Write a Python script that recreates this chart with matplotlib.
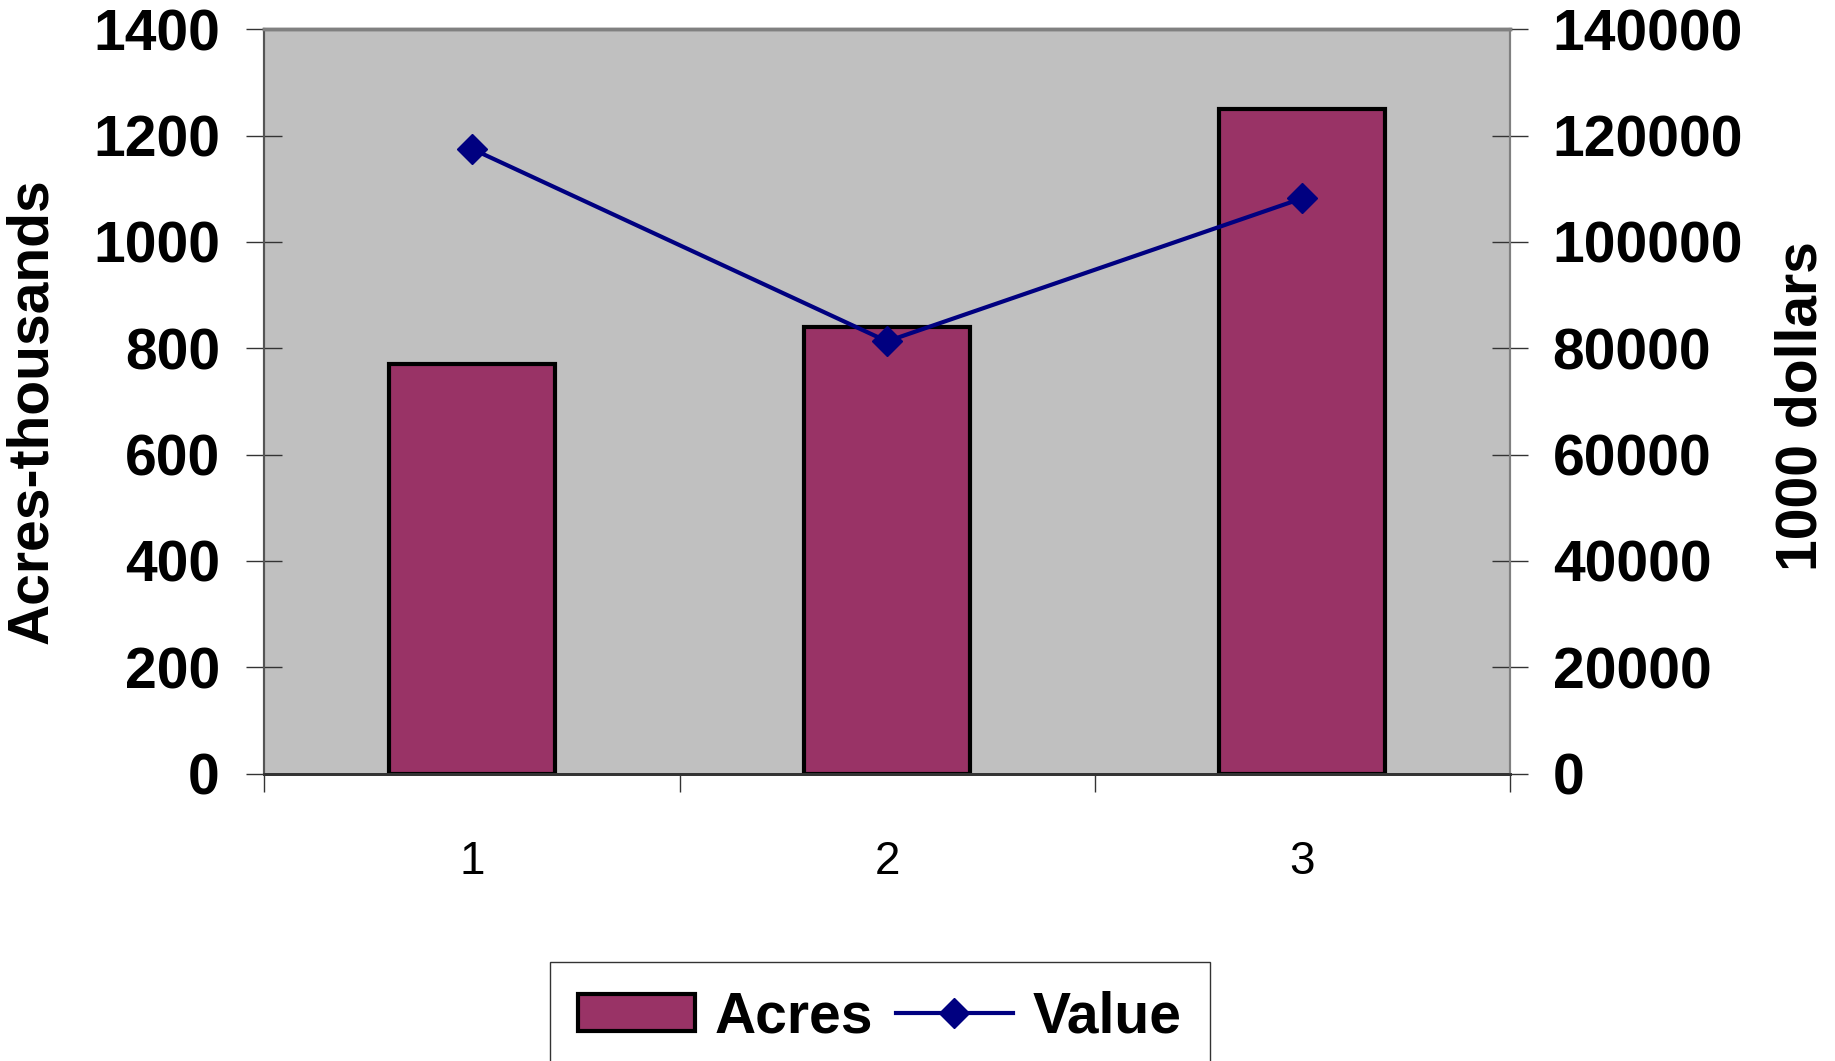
import matplotlib
matplotlib.use("Agg")
import matplotlib.pyplot as plt
import numpy as np

categories = ["1", "2", "3"]
acres = [770, 840, 1250]            # acres, thousands
value = [117500, 81300, 108200]     # 1000 dollars

plt.rcParams['font.family'] = ['Liberation Sans', 'DejaVu Sans']

fig = plt.figure(figsize=(18.35, 10.61), dpi=100)
ax = fig.add_axes([0.1441, 0.2709, 0.8227 - 0.1441, 0.9724 - 0.2709])
ax.set_facecolor('#C0C0C0')

x = np.arange(1, len(categories) + 1)
bars = ax.bar(x, acres, width=0.4, color='#993366', edgecolor='black',
              linewidth=3, label='Acres', zorder=2)

ax.set_xlim(0.5, 3.5)
ax.set_ylim(0, 1400)
ax.set_yticks(range(0, 1401, 200))
ax.set_xticks(x)
ax.set_xticklabels(categories, fontsize=33)
ax.set_xticks([0.5, 1.5, 2.5, 3.5], minor=True)
ax.tick_params(axis='x', which='major', length=0, pad=48)
ax.tick_params(axis='x', which='minor', length=13, width=1, color='#333333', direction='out')
ax.tick_params(axis='y', length=26, width=1, color='#333333', direction='inout', pad=19)
for lab in ax.get_yticklabels():
    lab.set_fontsize(41)
    lab.set_fontweight('bold')
ax.set_ylabel('Acres-thousands', fontsize=41, fontweight='bold')
ax.yaxis.set_label_coords(-0.165, 0.487)

ax2 = ax.twinx()
ln, = ax2.plot(x, value, color='#000080', linewidth=3, marker='D',
               markersize=15, markerfacecolor='#000080', markeredgecolor='#000080',
               label='Value', zorder=3)
ax2.set_ylim(0, 140000)
ax2.set_yticks(range(0, 140001, 20000))
ax2.tick_params(axis='y', length=26, width=1, color='#333333', direction='inout', pad=18)
for lab in ax2.get_yticklabels():
    lab.set_fontsize(41)
    lab.set_fontweight('bold')
ax2.set_ylabel('1000 dollars', fontsize=41, fontweight='bold')
ax2.yaxis.set_label_coords(1.213, 0.494)

for a in (ax, ax2):
    a.spines['top'].set_color('#808080')
    a.spines['top'].set_linewidth(2.5)
    a.spines['right'].set_color('#808080')
    a.spines['right'].set_linewidth(1.5)
    a.spines['left'].set_color('#555555')
    a.spines['left'].set_linewidth(1.5)
    a.spines['bottom'].set_color('#333333')
    a.spines['bottom'].set_linewidth(2)

leg = fig.legend([bars, ln], ['Acres', 'Value'], loc='upper center',
                 bbox_to_anchor=(0.4795, 0.0933), ncol=2,
                 prop={'size': 41, 'weight': 'bold'}, frameon=True,
                 fancybox=False, shadow=False, borderpad=0.5,
                 handlelength=2.05, handleheight=0.62, handletextpad=0.35,
                 columnspacing=0.4, borderaxespad=0)
leg.get_frame().set_edgecolor('black')
leg.get_frame().set_linewidth(1)

fig.savefig('out.png', dpi=100)
